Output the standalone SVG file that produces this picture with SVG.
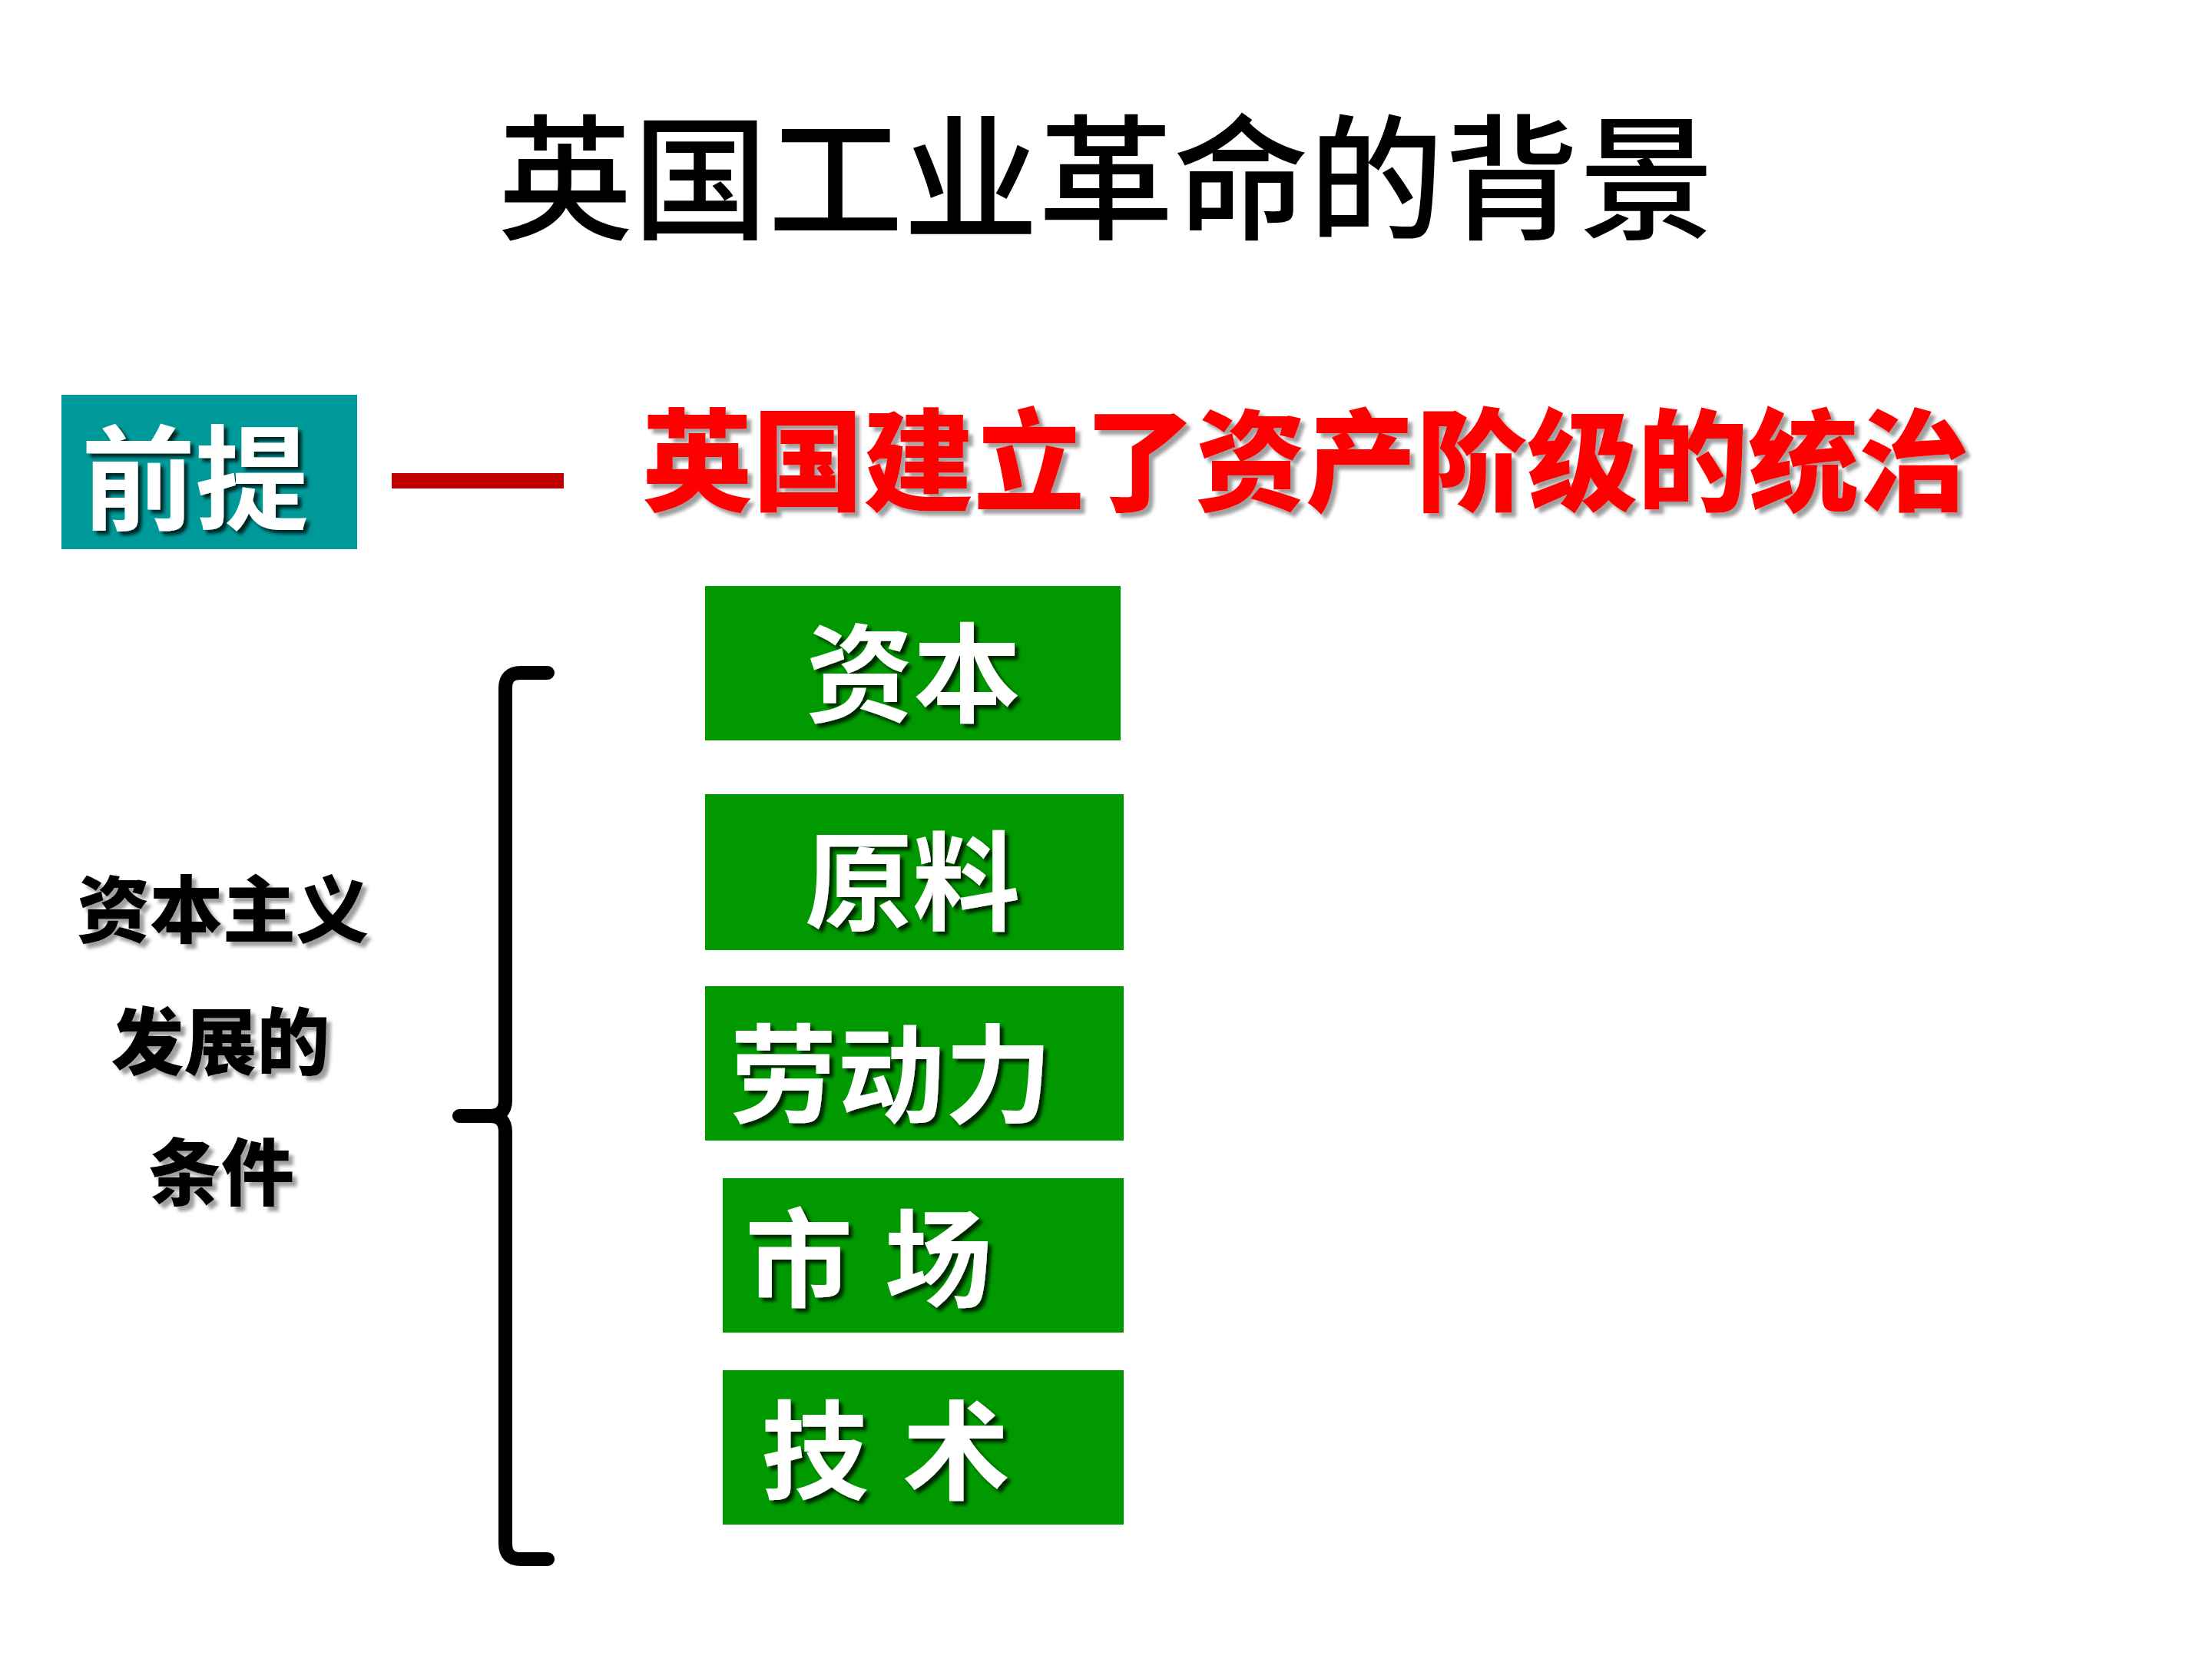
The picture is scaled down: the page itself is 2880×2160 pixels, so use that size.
<svg xmlns="http://www.w3.org/2000/svg" width="2880" height="2160" viewBox="0 0 2880 2160">
<defs>
<filter id="shDark" x="-10%" y="-10%" width="130%" height="130%">
<feDropShadow dx="5" dy="5" stdDeviation="2" flood-color="#000" flood-opacity="0.75"/>
</filter>
<filter id="shGray" x="-10%" y="-10%" width="130%" height="130%">
<feDropShadow dx="6" dy="6" stdDeviation="2" flood-color="#888" flood-opacity="0.8"/>
</filter>
</defs>
<style>
.cjk{font-family:"Noto Sans CJK SC","Noto Sans CJK TC",sans-serif;}
.title{font-size:176px;font-weight:500;fill:#000;}
.red{font-size:144px;font-weight:900;fill:#FF0000;}
.box{fill:#009900;}
.lbl{font-size:140px;font-weight:700;fill:#fff;}
.side{font-size:95px;font-weight:900;fill:#000;}
</style>
<rect width="2880" height="2160" fill="#fff"/>
<g id="title">
<text class="cjk title" x="1440" y="298" text-anchor="middle">英国工业革命的背景</text>
</g>
<g id="premise">
<rect x="80" y="514" width="385" height="201" fill="#009999"/>
<text class="cjk" x="254" y="678" text-anchor="middle" font-size="148" font-weight="700" fill="#fff" filter="url(#shDark)">前提</text>
</g>
<g id="premise-text">
<text class="cjk red" x="836" y="654" filter="url(#shGray)">英国建立了资产阶级的统治</text>
</g>
<g id="side-label">
<text class="cjk side" x="290" y="1220" text-anchor="middle" filter="url(#shGray)">资本主义</text>
<text class="cjk side" x="287" y="1392" text-anchor="middle" filter="url(#shGray)">发展的</text>
<text class="cjk side" x="288" y="1562" text-anchor="middle" filter="url(#shGray)">条件</text>
</g>
<g id="node-capital">
<rect class="box" x="918" y="763" width="541" height="201"/>
<text class="cjk lbl" x="1189" y="929" text-anchor="middle" filter="url(#shDark)">资本</text>
</g>
<g id="node-material">
<rect class="box" x="918" y="1034" width="545" height="203"/>
<text class="cjk lbl" x="1188" y="1200" text-anchor="middle" filter="url(#shDark)">原料</text>
</g>
<g id="node-labour">
<rect class="box" x="918" y="1284" width="545" height="201"/>
<text class="cjk lbl" x="950" y="1451" filter="url(#shDark)">劳动力</text>
</g>
<g id="node-market">
<rect class="box" x="941" y="1534" width="522" height="201"/>
<text class="cjk lbl" x="970" y="1691" word-spacing="10" filter="url(#shDark)">市 场</text>
</g>
<g id="node-tech">
<rect class="box" x="941" y="1784" width="522" height="201"/>
<text class="cjk lbl" x="991" y="1941" word-spacing="12" filter="url(#shDark)">技 术</text>
</g>
<g id="connectors">
<rect x="510" y="616" width="224" height="20" fill="#C00000"/>
<path d="M713,876 H678 Q658,876 658,896 V1432 Q658,1453 638,1453 H598 M638,1453 Q658,1453 658,1474 V2010 Q658,2030 678,2030 H713" fill="none" stroke="#000" stroke-width="18" stroke-linecap="round" stroke-linejoin="round"/>
</g>
</svg>
